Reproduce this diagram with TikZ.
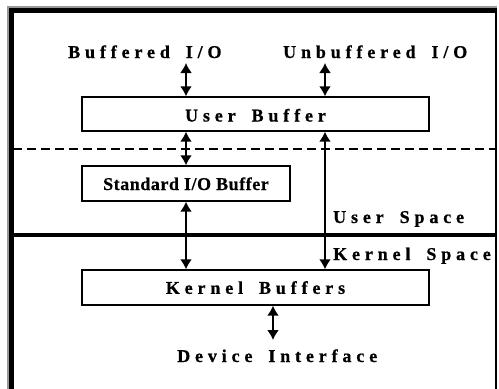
\documentclass[tikz,border=0pt]{standalone}
\usepackage{fontspec}
\setmainfont{Liberation Serif}
\newfontfamily\widefont[LetterSpace=27, WordSpace=1.7, BoldFeatures={FakeBold=0.8}]{Liberation Serif}
\newfontfamily\narrowfont[LetterSpace=3, BoldFeatures={FakeBold=0.6}]{Liberation Serif}
\usetikzlibrary{arrows.meta}

\tikzset{
  spaced/.style={font=\widefont\bfseries\fontsize{18}{20}\selectfont, inner sep=0pt},
  label/.style={spaced, anchor=base west},
  buffer/.style={draw, line width=1.4pt, inner sep=0pt, text depth=0pt},
  link/.style={line width=1.8pt, {Latex[length=10pt,width=12pt]}-{Latex[length=10pt,width=12pt]}},
  frameline/.style={line width=5pt},
  shade/.style={line width=2pt, black!40},
}

\begin{document}
\begin{tikzpicture}[x=1pt,y=-1pt]
  \useasboundingbox (0,0) rectangle (499,389);

  % outer frame, open at the bottom, with a grey edge on the left and top
  \draw[shade] (8,389) -- (8,7) -- (497,7);
  \draw[frameline] (11.5,389) -- (11.5,10) -- (497,10);
  \draw[line width=2pt] (496,10) -- (496,389);

  % user/kernel boundary and the dashed split inside user space
  \draw[line width=3.5pt] (13,235) -- (496,235);
  \draw[line width=1.3pt, dash pattern=on 9pt off 5pt] (13,149) -- (496,149);

  % buffers
  \node[buffer, spaced, text height=15pt, minimum width=347pt, minimum height=34pt] (user) at (255.5,114) {User Buffer};
  \node[buffer, font=\narrowfont\bfseries\fontsize{18}{20}\selectfont, text height=13pt,
        minimum width=208pt, minimum height=35pt] (stdio) at (186,183.5) {Standard I/O Buffer};
  \node[buffer, spaced, minimum width=347pt, minimum height=35pt] (kernel) at (255.5,287.5) {Kernel Buffers};

  % labels
  \node[label] (bufio) at (68,58) {Buffered I/O};
  \node[label] (unbufio) at (283,58) {Unbuffered I/O};
  \node[label] (userspace) at (333,223) {User Space};
  \node[label] (kernelspace) at (333,260) {Kernel Space};
  \node[label] (device) at (177,362) {Device Interface};

  % free ends of the outer arrows
  \coordinate (bufend) at (186,63);
  \coordinate (unbufend) at (325,63);
  \coordinate (devend) at (273,340);

  % data paths
  \draw[link] (bufend) -- (bufend |- user.north);
  \draw[link] (unbufend) -- (unbufend |- user.north);
  \draw[link] (bufend |- user.south) -- (stdio.north);
  \draw[link] (stdio.south) -- (stdio.south |- kernel.north);
  \draw[link] (unbufend |- user.south) -- (unbufend |- kernel.north);
  \draw[link] (devend |- kernel.south) -- (devend);
\end{tikzpicture}
\end{document}
